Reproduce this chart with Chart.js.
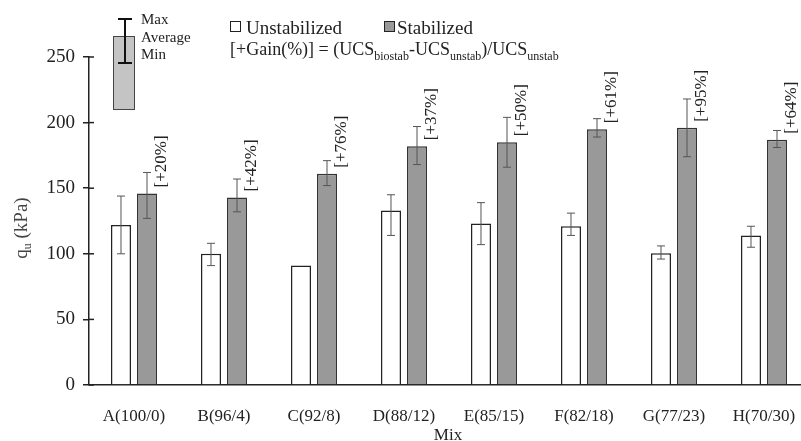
<!DOCTYPE html>
<html>
<head>
<meta charset="utf-8">
<script src="https://cdn.jsdelivr.net/npm/chart.js@4.4.1/dist/chart.umd.min.js"></script>
<style>
  body { margin: 0; background: #fff; overflow: hidden; }
  #wrap { position: relative; width: 812px; height: 441px; }
  .t { position: absolute; font-family: "Liberation Serif", "Times New Roman", serif; font-weight: 400; color: #222; white-space: nowrap; line-height: 1; }
  .t sub { font-size: 12px; vertical-align: baseline; position: relative; top: 5px; }
  .sq { position: absolute; width: 9px; height: 9px; border: 1.5px solid #222; }
</style>
</head>
<body>
<div id="wrap">
  <canvas id="chart" width="812" height="441"></canvas>

  <!-- key for the error bars -->
  <div style="position:absolute;left:113px;top:36px;width:20px;height:72px;background:#c4c4c4;border:1.5px solid #444;"></div>
  <div style="position:absolute;left:124px;top:19px;width:1.5px;height:44px;background:#111;"></div>
  <div style="position:absolute;left:118px;top:18px;width:14px;height:1.5px;background:#111;"></div>
  <div style="position:absolute;left:118px;top:62px;width:14px;height:1.5px;background:#111;"></div>
  <div class="t" style="left:141px;top:12px;font-size:15px;">Max</div>
  <div class="t" style="left:141px;top:30px;font-size:15px;">Average</div>
  <div class="t" style="left:141px;top:47px;font-size:15px;">Min</div>

  <div class="sq" style="left:230px;top:21px;background:#fff;"></div>
  <div class="t" style="left:246px;top:18px;font-size:19px;">Unstabilized</div>
  <div class="sq" style="left:384px;top:21px;background:#999;"></div>
  <div class="t" style="left:397px;top:18px;font-size:19px;">Stabilized</div>
  <div class="t" style="left:230px;top:40px;font-size:18px;">[+Gain(%)] = (UCS<sub>biostab</sub>-UCS<sub>unstab</sub>)/UCS<sub>unstab</sub></div>

  <div class="t" style="left:448px;top:434px;font-size:17px;transform:translate(-50%,-50%);">Mix</div>
</div>

<script>
const mixes = ['A(100/0)', 'B(96/4)', 'C(92/8)', 'D(88/12)', 'E(85/15)', 'F(82/18)', 'G(77/23)', 'H(70/30)'];

const unstabAvg = [122, 100, 91, 133, 123, 121, 100.5, 114];
const unstabMax = [144, 108, 91.5, 145, 139, 131, 106, 121];
const unstabMin = [100, 91, 90.5, 114, 107, 114, 96, 105];

const stabAvg = [146, 143, 161, 182, 185, 195, 196, 187];
const stabMax = [162, 157, 171, 197, 204, 203, 218, 194];
const stabMin = [127, 132, 152, 168, 166, 189, 174, 181];

const gainLabels = ['[+20%]', '[+42%]', '[+76%]', '[+37%]', '[+50%]', '[+61%]', '[+95%]', '[+64%]'];

const yTicks = [0, 50, 100, 150, 200, 250];

const serif = '"Liberation Serif", "Times New Roman", serif';

// error bars + gain labels, placed from the bar elements
const extras = {
  id: 'extras',
  afterDatasetsDraw(chart) {
    const ctx = chart.ctx;
    const y = chart.scales.y;
    const ranges = [[unstabMax, unstabMin], [stabMax, stabMin]];
    ctx.save();
    ctx.strokeStyle = '#555';
    ctx.lineWidth = 1;
    ranges.forEach(function(r, d) {
      chart.getDatasetMeta(d).data.forEach(function(bar, i) {
        const top = y.getPixelForValue(r[0][i]);
        const bot = y.getPixelForValue(r[1][i]);
        if (bot - top < 2) return;
        ctx.beginPath();
        ctx.moveTo(bar.x, top); ctx.lineTo(bar.x, bot);
        ctx.moveTo(bar.x - 4, top); ctx.lineTo(bar.x + 4, top);
        ctx.moveTo(bar.x - 4, bot); ctx.lineTo(bar.x + 4, bot);
        ctx.stroke();
      });
    });

    ctx.fillStyle = '#222';
    ctx.font = '17px ' + serif;
    ctx.textAlign = 'left';
    ctx.textBaseline = 'middle';
    chart.getDatasetMeta(1).data.forEach(function(bar, i) {
      ctx.save();
      ctx.translate(bar.x + 15, bar.y - 6);
      ctx.rotate(-Math.PI / 2);
      ctx.fillText(gainLabels[i], 0, 0);
      ctx.restore();
    });

    // y title: q with subscript u, then (kPa)
    ctx.save();
    ctx.translate(27, 226);
    ctx.rotate(-Math.PI / 2);
    ctx.fillStyle = '#444';
    ctx.textBaseline = 'alphabetic';
    ctx.font = '19px ' + serif;
    const w1 = ctx.measureText('q').width;
    ctx.font = '12px ' + serif;
    const w2 = ctx.measureText('u').width;
    ctx.font = '19px ' + serif;
    const w3 = ctx.measureText(' (kPa)').width;
    let px = -(w1 + w2 + w3) / 2 - 2;
    ctx.fillText('q', px, 0);
    px += w1;
    ctx.font = '12px ' + serif;
    ctx.fillText('u', px, 4);
    px += w2;
    ctx.font = '19px ' + serif;
    ctx.fillText(' (kPa)', px, 0);
    ctx.restore();

    // little inward part of the y ticks
    ctx.strokeStyle = '#222';
    ctx.lineWidth = 1.5;
    const left = chart.chartArea.left;
    yTicks.forEach(function(v) {
      const py = y.getPixelForValue(v);
      ctx.beginPath();
      ctx.moveTo(left, py); ctx.lineTo(left + 5, py);
      ctx.stroke();
    });
    ctx.restore();
  }
};

new Chart(document.getElementById('chart'), {
  type: 'bar',
  plugins: [extras],
  data: {
    labels: mixes,
    datasets: [
      {
        label: 'Unstabilized',
        data: unstabAvg,
        backgroundColor: '#fff',
        borderColor: '#222',
        borderWidth: 1.5
      },
      {
        label: 'Stabilized',
        data: stabAvg,
        backgroundColor: '#999',
        borderColor: '#333',
        borderWidth: 1.5
      }
    ]
  },
  options: {
    responsive: false,
    animation: false,
    layout: { padding: { top: 57, right: 3, left: 0, bottom: 0 } },
    categoryPercentage: 0.578,
    barPercentage: 0.77,
    plugins: {
      legend: { display: false },
      tooltip: { enabled: false }
    },
    scales: {
      x: {
        grid: { display: false },
        border: { display: true, color: '#222', width: 1.5 },
        ticks: { color: '#222', font: { family: serif, size: 17 }, padding: 13, maxRotation: 0 },
        afterFit: function(s) { s.height = 56; }
      },
      y: {
        min: 0,
        max: 250,
        afterBuildTicks: function(s) { s.ticks = yTicks.map(v => ({ value: v })); },
        grid: { drawOnChartArea: false, color: '#222', lineWidth: 1.5, tickLength: 6 },
        border: { color: '#222', width: 1.5 },
        ticks: { color: '#222', font: { family: serif, size: 19 }, padding: 8 },
        afterFit: function(s) { s.width = 89; }
      }
    }
  }
});
</script>
</body>
</html>
